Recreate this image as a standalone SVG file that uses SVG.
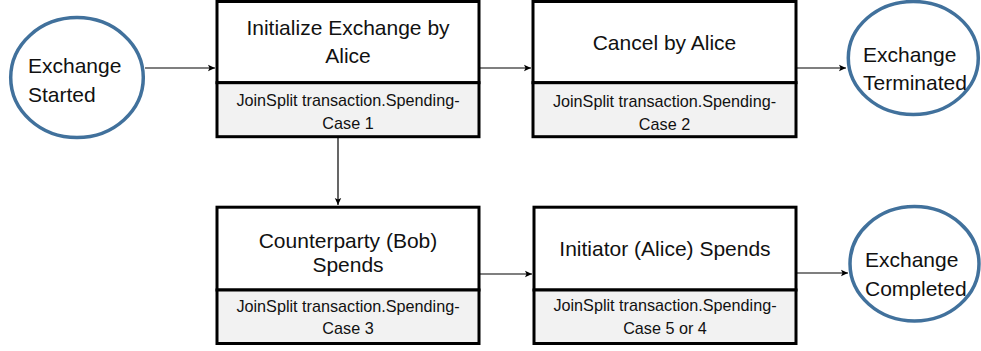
<svg xmlns="http://www.w3.org/2000/svg" width="981" height="351" viewBox="0 0 981 351">
<style>
.st{fill:#fff;stroke:#41719C;stroke-width:3.5}
.top{fill:#fff;stroke:#000;stroke-width:3}
.bot{fill:#F2F2F2;stroke:#000;stroke-width:3}
.t{font-family:"Liberation Sans",Arial,sans-serif;font-size:21px;fill:#111}
.c{text-anchor:middle}
.s{font-family:"Liberation Sans",Arial,sans-serif;font-size:16.2px;fill:#111;text-anchor:middle}
.ln{stroke:#000;stroke-width:1.2;fill:none;marker-end:url(#ah)}
</style>
<defs>
<marker id="ah" markerUnits="userSpaceOnUse" markerWidth="8" markerHeight="8" refX="7" refY="4" orient="auto">
<path d="M0,0.8 L7,4 L0,7.2 L1.5,4 Z" fill="#000"/>
</marker>
</defs>
<rect width="981" height="351" fill="#fff"/>
<g id="connectors">
<line class="ln" x1="145" y1="68" x2="215" y2="68"/>
<line class="ln" x1="479" y1="68" x2="531" y2="68"/>
<line class="ln" x1="796" y1="68" x2="846" y2="68"/>
<line class="ln" x1="338" y1="138" x2="338" y2="205"/>
<line class="ln" x1="479" y1="274" x2="532" y2="274"/>
<line class="ln" x1="797" y1="273" x2="848" y2="273"/>
</g>
<g id="exchange-started">
<ellipse class="st" cx="77" cy="77.6" rx="66.3" ry="60"/>
<text class="t" x="28" y="73">Exchange</text>
<text class="t" x="28" y="102">Started</text>
</g>
<g id="initialize">
<rect class="top" x="217" y="1.5" width="262" height="81.2"/>
<rect class="bot" x="217" y="82.7" width="262" height="54"/>
<text class="t c" x="348" y="35">Initialize Exchange by</text>
<text class="t c" x="348" y="63">Alice</text>
<text class="s" x="348" y="106">JoinSplit transaction.Spending-</text>
<text class="s" x="348" y="129">Case 1</text>
</g>
<g id="cancel">
<rect class="top" x="533" y="1.5" width="263" height="81.2"/>
<rect class="bot" x="533" y="82.7" width="263" height="54"/>
<text class="t c" x="664.5" y="50">Cancel by Alice</text>
<text class="s" x="664.5" y="107">JoinSplit transaction.Spending-</text>
<text class="s" x="664.5" y="130">Case 2</text>
</g>
<g id="exchange-terminated">
<ellipse class="st" cx="913.3" cy="58" rx="65" ry="56.5"/>
<text class="t" x="863" y="62">Exchange</text>
<text class="t" x="863" y="90">Terminated</text>
</g>
<g id="counterparty">
<rect class="top" x="217" y="207.2" width="262" height="82.8"/>
<rect class="bot" x="217" y="290" width="262" height="53.5"/>
<text class="t c" x="348" y="248">Counterparty (Bob)</text>
<text class="t c" x="348" y="272">Spends</text>
<text class="s" x="348" y="312">JoinSplit transaction.Spending-</text>
<text class="s" x="348" y="334">Case 3</text>
</g>
<g id="initiator">
<rect class="top" x="534" y="207.2" width="262" height="82.8"/>
<rect class="bot" x="534" y="290" width="262" height="53.5"/>
<text class="t c" x="665" y="256">Initiator (Alice) Spends</text>
<text class="s" x="665" y="311">JoinSplit transaction.Spending-</text>
<text class="s" x="665" y="334">Case 5 or 4</text>
</g>
<g id="exchange-completed">
<ellipse class="st" cx="914.5" cy="263.8" rx="64.5" ry="57.2"/>
<text class="t" x="865" y="267">Exchange</text>
<text class="t" x="865" y="296">Completed</text>
</g>
</svg>
